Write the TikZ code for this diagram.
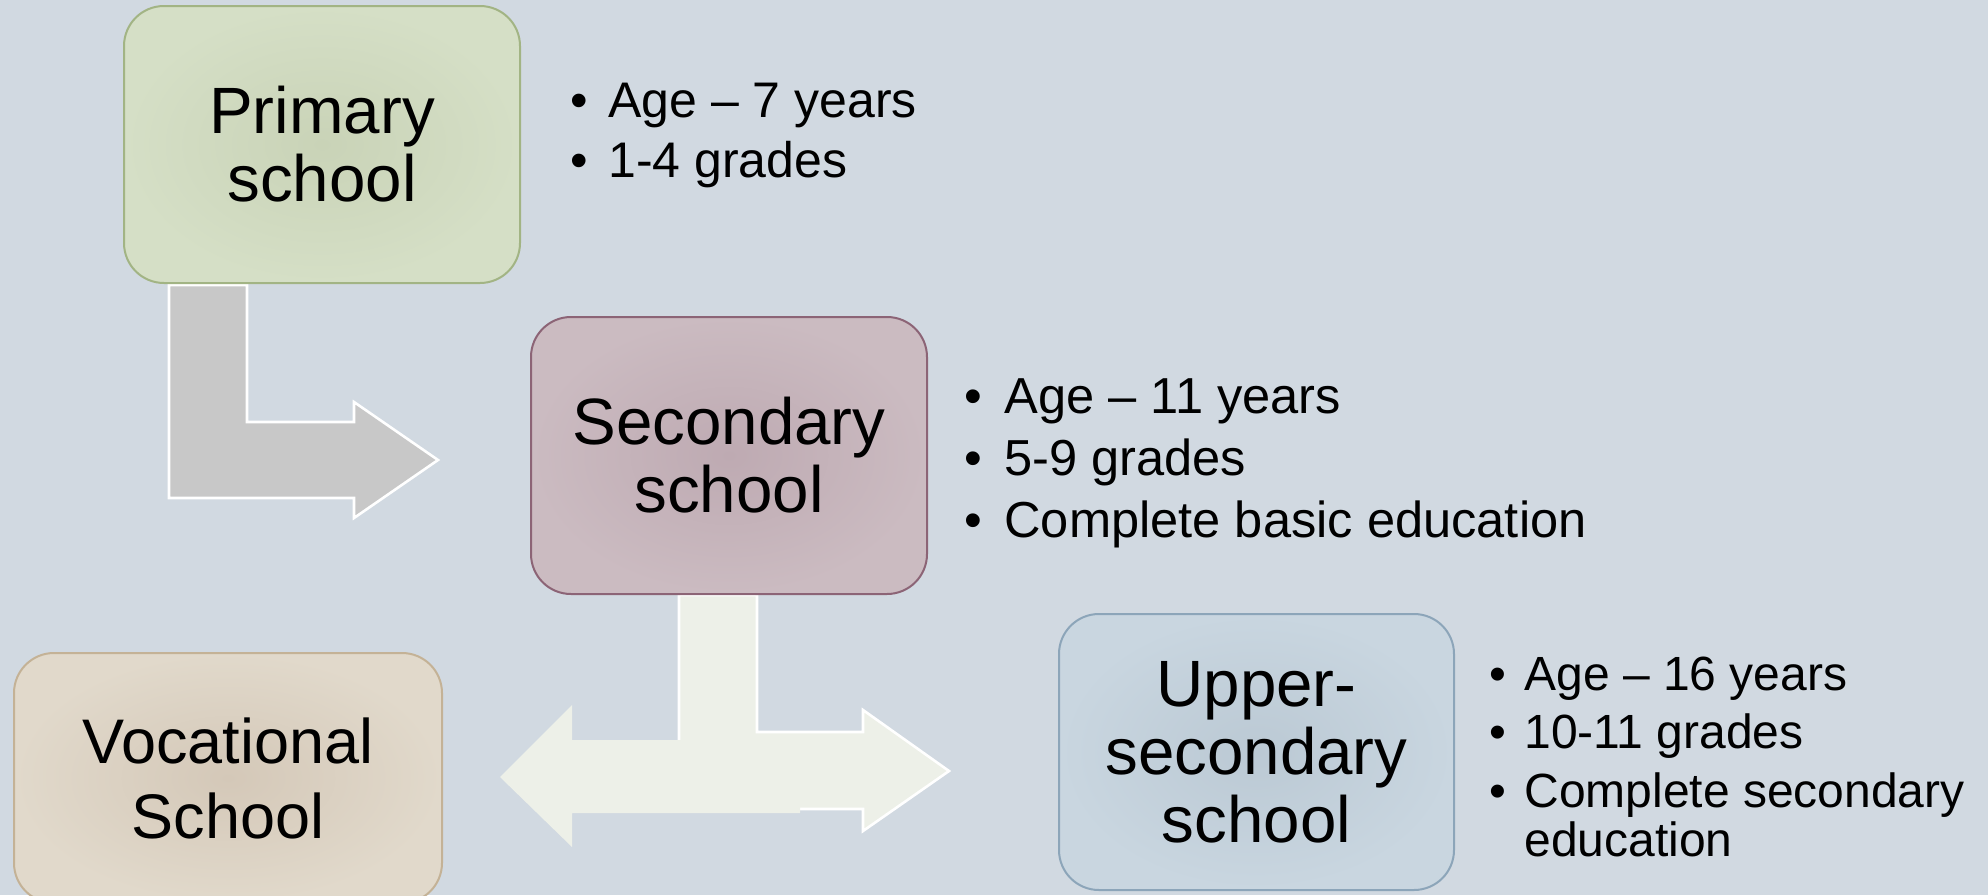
\documentclass[tikz,border=0pt]{standalone}
\usepackage{fontspec}
\setmainfont{Liberation Sans}
\definecolor{bg}{RGB}{209,217,225}
\definecolor{primO}{RGB}{213,223,198}
\definecolor{primI}{RGB}{201,211,183}
\definecolor{primB}{RGB}{162,180,132}
\definecolor{secO}{RGB}{203,187,193}
\definecolor{secI}{RGB}{190,170,178}
\definecolor{secB}{RGB}{140,100,118}
\definecolor{vocO}{RGB}{225,217,203}
\definecolor{vocI}{RGB}{212,200,184}
\definecolor{vocB}{RGB}{196,178,150}
\definecolor{upO}{RGB}{201,214,224}
\definecolor{upI}{RGB}{187,201,212}
\definecolor{upB}{RGB}{140,165,185}
\definecolor{arrG}{RGB}{200,200,200}
\definecolor{arrL}{RGB}{237,240,232}
\newcommand{\bl}[2]{\hbox{\makebox[#1][l]{•}#2}}
\tikzset{
  schoolbox/.style={rounded corners=20pt, line width=1pt, align=center,
    inner sep=0pt, shading=radial,
    font=\fontsize{32.75}{34}\selectfont},
  bulletlist/.style={anchor=base west, inner sep=0pt},
  blockarrow/.style={line width=1.3pt, line join=miter},
}
\begin{document}
\begin{tikzpicture}[x=0.5pt,y=-0.5pt]
\fill[bg] (0,0) rectangle (1988,895);
\useasboundingbox (0,0) rectangle (1988,895);
\clip (0,0) rectangle (1988,895);

% block arrows
\fill[arrG, draw=white, blockarrow] (169,285) -- (247,285) -- (247,422) -- (354,422) -- (354,402)
  -- (438,460) -- (354,518) -- (354,498) -- (169,498) -- cycle;
\fill[arrL, draw=white, blockarrow] (679,595) -- (757,595) -- (757,732) -- (863,732) -- (863,710)
  -- (949,771) -- (863,831) -- (863,809) -- (679,809) -- cycle;
\fill[arrL] (800,740) -- (572,740) -- (572,705) -- (500,777) -- (572,847) -- (572,813)
  -- (800,813) -- cycle;

% boxes
\node[schoolbox, draw=primB, inner color=primI, outer color=primO,
  minimum width=198pt, minimum height=138.5pt] (prim) at (322,144.5) {Primary\\school};
\node[schoolbox, draw=secB, inner color=secI, outer color=secO,
  minimum width=198pt, minimum height=138.5pt] (sec) at (729,455.5) {Secondary\\school};
\node[schoolbox, draw=vocB, inner color=vocI, outer color=vocO,
  minimum width=214pt, minimum height=125pt, font=\fontsize{31.5}{37.5}\selectfont] (voc) at (228,778) {Vocational\\School};
\node[schoolbox, draw=upB, inner color=upI, outer color=upO,
  minimum width=197.5pt, minimum height=138pt] (up) at (1256.5,752) {Upper-\\secondary\\school};

% bullet lists
\node[bulletlist, font=\fontsize{25}{30}\selectfont] (l1) at (570,117)
  {\vtop{\baselineskip=30pt \bl{19pt}{Age – 7 years}\bl{19pt}{1-4 grades}}};
\node[bulletlist, font=\fontsize{25.3}{31}\selectfont] (l2) at (964,413)
  {\vtop{\baselineskip=31pt \bl{20pt}{Age – 11 years}\bl{20pt}{5-9 grades}\bl{20pt}{Complete basic education}}};
\node[bulletlist, font=\fontsize{24}{22.5}\selectfont] (l3) at (1489,690)
  {\vtop{\baselineskip=23pt \bl{17.5pt}{Age – 16 years}\vskip6pt\bl{17.5pt}{10-11 grades}\vskip6.5pt\bl{17.5pt}{Complete secondary}\vskip1.5pt\hbox{\hspace*{17.5pt}education}}};
\end{tikzpicture}
\end{document}
